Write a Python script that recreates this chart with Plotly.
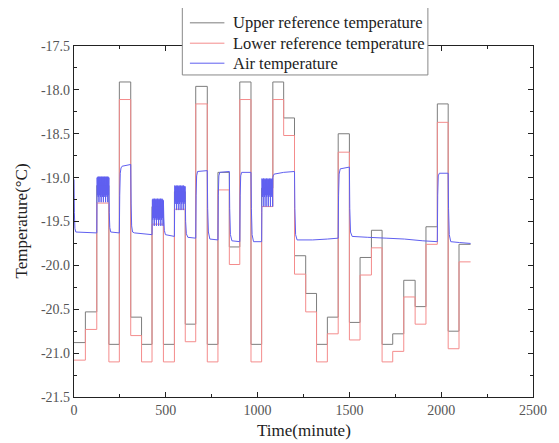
import plotly.graph_objects as go

# ---- data ----
step_time = [0, 62, 124, 190, 247, 309, 368, 425, 487, 547, 606, 663, 726, 784, 846,
             903, 964, 1022, 1083, 1142, 1201, 1262, 1321, 1380, 1439, 1500, 1558,
             1620, 1678, 1736, 1796, 1858, 1917, 1979, 2038, 2097, 2160]

upper_ref = [-20.88, -20.53, -19.09, -20.90, -17.91, -20.59, -20.90, -19.33, -20.90,
             -19.16, -20.67, -17.96, -20.90, -18.94, -19.79, -17.91, -20.90, -19.12,
             -17.91, -18.32, -19.89, -20.32, -20.90, -20.59, -18.50, -20.65, -19.91,
             -19.60, -20.90, -20.78, -20.17, -20.47, -19.56, -18.16, -20.75, -19.76]

lower_ref = [-21.08, -20.73, -19.29, -21.10, -18.11, -20.80, -21.10, -19.53, -21.10,
             -19.36, -20.87, -18.16, -21.10, -19.14, -19.99, -18.11, -21.10, -19.33,
             -18.11, -18.52, -20.10, -20.53, -21.10, -20.78, -18.71, -20.85, -20.11,
             -19.80, -21.10, -20.98, -20.36, -20.67, -19.76, -18.37, -20.95, -19.96]

air_time = [
    0, 2, 5, 10, 124,
    125, 126, 128, 130, 132, 134, 136, 138, 140, 142, 144, 146, 148, 150, 152, 154,
    156, 158, 160, 162, 164, 166, 168, 170, 172, 174, 176, 178, 180, 182, 184, 186,
    188, 190,
    192, 195, 200, 247,
    249, 252, 256, 262, 309,
    311, 314, 319, 330, 425,
    426, 427, 429, 431, 433, 435, 437, 439, 441, 443, 445, 447, 449, 451, 453, 455,
    457, 459, 461, 463, 465, 467, 469, 471, 473, 475, 477, 479, 481, 483, 485, 487,
    489, 492, 498, 547,
    548, 549, 551, 553, 555, 557, 559, 561, 563, 565, 567, 569, 571, 573, 575, 577,
    579, 581, 583, 585, 587, 589, 591, 593, 595, 597, 599, 601, 603, 605, 606,
    608, 612, 620, 663,
    665, 668, 673, 726,
    728, 732, 740, 784,
    786, 789, 794, 846,
    848, 852, 860, 903,
    905, 908, 913, 964,
    966, 970, 978, 1022,
    1023, 1024, 1026, 1028, 1030, 1032, 1034, 1036, 1038, 1040, 1042, 1044, 1046,
    1048, 1050, 1052, 1054, 1056, 1058, 1060, 1062, 1064, 1066, 1068, 1070, 1072,
    1074, 1076, 1078, 1080, 1082, 1083,
    1085, 1090, 1142, 1201,
    1203, 1207, 1215, 1300, 1380, 1439,
    1441, 1444, 1450, 1500,
    1502, 1506, 1515, 1600, 1700, 1800, 1900, 1979,
    1981, 1984, 1990, 2038,
    2040, 2044, 2052, 2100, 2160,
]

air_temp = [
    -19.02, -19.40, -19.58, -19.62, -19.63,
    -19.30, -19.00, -19.20, -18.99, -19.22, -18.99, -19.28, -18.99, -19.20, -18.99,
    -19.22, -18.99, -19.28, -18.99, -19.20, -18.99, -19.22, -18.99, -19.28, -18.99,
    -19.20, -18.99, -19.22, -18.99, -19.28, -18.99, -19.20, -18.99, -19.22, -18.99,
    -19.28, -18.99, -19.20, -19.00,
    -19.40, -19.57, -19.62, -19.63,
    -19.20, -18.95, -18.89, -18.87, -18.85,
    -19.30, -19.55, -19.62, -19.63, -19.65,
    -19.40, -19.25, -19.48, -19.24, -19.46, -19.25, -19.55, -19.24, -19.48, -19.25,
    -19.46, -19.24, -19.55, -19.25, -19.48, -19.24, -19.46, -19.25, -19.55, -19.24,
    -19.48, -19.25, -19.46, -19.24, -19.55, -19.25, -19.48, -19.24, -19.46, -19.25,
    -19.55, -19.26,
    -19.45, -19.60, -19.65, -19.67,
    -19.35, -19.09, -19.30, -19.10, -19.28, -19.09, -19.37, -19.10, -19.30, -19.09,
    -19.28, -19.10, -19.37, -19.09, -19.30, -19.10, -19.28, -19.09, -19.37, -19.10,
    -19.30, -19.09, -19.28, -19.10, -19.37, -19.09, -19.30, -19.10, -19.28, -19.10,
    -19.25,
    -19.50, -19.64, -19.68, -19.69,
    -19.20, -18.98, -18.93, -18.92,
    -19.35, -19.62, -19.70, -19.71,
    -19.20, -18.98, -18.94, -18.93,
    -19.35, -19.65, -19.72, -19.73,
    -19.20, -18.98, -18.94, -18.94,
    -19.35, -19.65, -19.73, -19.73,
    -19.40, -19.01, -19.22, -19.02, -19.20, -19.01, -19.33, -19.02, -19.22, -19.01,
    -19.20, -19.02, -19.33, -19.01, -19.22, -19.02, -19.20, -19.01, -19.33, -19.02,
    -19.22, -19.01, -19.20, -19.02, -19.33, -19.01, -19.22, -19.02, -19.20, -19.01,
    -19.33, -19.00,
    -18.98, -18.96, -18.94, -18.93,
    -19.35, -19.65, -19.71, -19.71, -19.70, -19.69,
    -19.20, -18.96, -18.90, -18.88,
    -19.35, -19.62, -19.67, -19.68, -19.69, -19.70, -19.72, -19.73,
    -19.20, -18.98, -18.95, -18.95,
    -19.35, -19.65, -19.73, -19.74, -19.75,
]

x_ticks = [0, 500, 1000, 1500, 2000, 2500]
y_ticks = [-21.5, -21.0, -20.5, -20.0, -19.5, -19.0, -18.5, -18.0, -17.5]

series_names = ["Upper reference temperature", "Lower reference temperature", "Air temperature"]
series_colors = ["rgb(125,125,125)", "rgb(244,140,140)", "rgb(95,95,240)"]

FONT = "Liberation Serif"

fig = go.Figure()
fig.add_trace(go.Scatter(
    x=step_time, y=upper_ref + [upper_ref[-1]], mode="lines", line_shape="hv",
    line=dict(color=series_colors[0], width=1, simplify=False),
    name=series_names[0], showlegend=False))
fig.add_trace(go.Scatter(
    x=step_time, y=lower_ref + [lower_ref[-1]], mode="lines", line_shape="hv",
    line=dict(color=series_colors[1], width=1, simplify=False),
    name=series_names[1], showlegend=False))
fig.add_trace(go.Scatter(
    x=air_time, y=air_temp, mode="lines",
    line=dict(color=series_colors[2], width=1, simplify=False),
    name=series_names[2], showlegend=False))

axis_common = dict(
    showline=True, linecolor="#222", linewidth=1.3, mirror="allticks",
    ticks="inside", ticklen=5, tickwidth=1.2, tickcolor="#222",
    showgrid=False, zeroline=False,
    tickfont=dict(family=FONT, size=14, color="#555"),
)

fig.update_xaxes(range=[0, 2500], tickvals=x_ticks, ticktext=[str(v) for v in x_ticks],
                 minor=dict(dtick=250, ticks="inside", ticklen=3, tickcolor="#222",
                            showgrid=False),
                 **axis_common)
fig.update_yaxes(range=[-21.5, -17.5], tickvals=y_ticks,
                 ticktext=[f"{v:.1f}" for v in y_ticks],
                 minor=dict(dtick=0.25, tick0=-21.5, ticks="inside", ticklen=3,
                            tickcolor="#222", showgrid=False),
                 **axis_common)

# legend box drawn in paper coordinates (box, sample lines, labels)
shapes = [dict(type="rect", xref="paper", yref="paper", x0=0.236, x1=0.771,
               y0=0.9175, y1=1.111, fillcolor="white", line=dict(color="#888", width=1),
               layer="above")]
annotations = []
row_y = [1.066, 1.008, 0.951]
for name, color, yy in zip(series_names, series_colors, row_y):
    shapes.append(dict(type="line", xref="paper", yref="paper", x0=0.2525, x1=0.3277,
                       y0=yy, y1=yy, line=dict(color=color, width=1), layer="above"))
    annotations.append(dict(text=name, xref="paper", yref="paper", x=0.341, y=yy,
                            xanchor="left", yanchor="middle", showarrow=False,
                            font=dict(family=FONT, size=16.5, color="#222")))

annotations += [
    dict(text="Time(minute)", xref="paper", yref="paper", x=0.5, y=0,
         yshift=-33, xanchor="center", yanchor="middle", showarrow=False,
         font=dict(family=FONT, size=17, color="#222")),
    dict(text="Temperature(°C)", xref="paper", yref="paper", x=0, y=0.5,
         xshift=-53, xanchor="center", yanchor="middle", textangle=-90,
         showarrow=False, font=dict(family=FONT, size=17, color="#222")),
]

fig.update_layout(
    width=551, height=435,
    margin=dict(l=66, r=20, t=38, b=46),
    paper_bgcolor="white", plot_bgcolor="white",
    font=dict(family=FONT, color="#222"),
    showlegend=False,
    shapes=shapes,
    annotations=annotations,
)

fig.write_html("out.html")
